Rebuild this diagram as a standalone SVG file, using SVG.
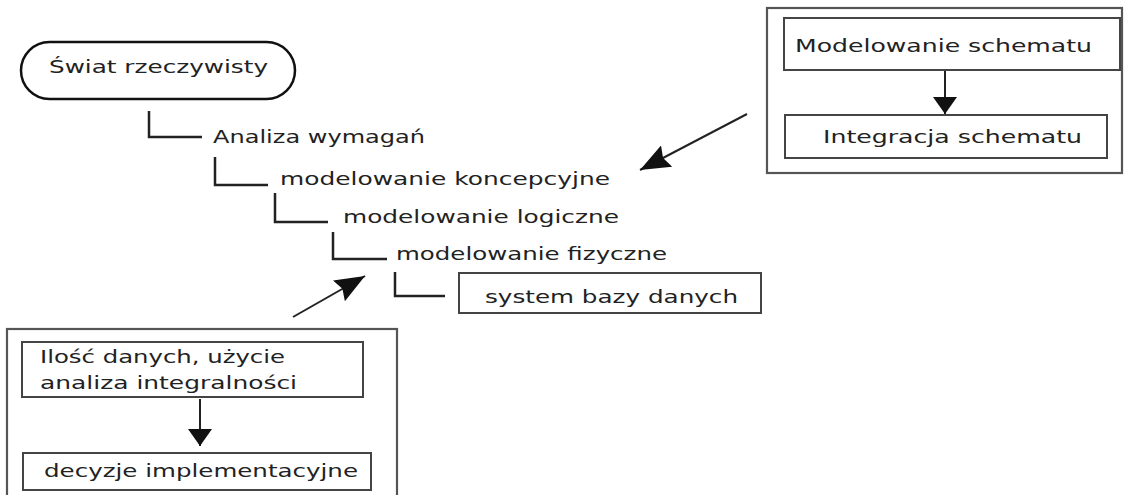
<svg xmlns="http://www.w3.org/2000/svg" width="1126" height="495" viewBox="0 0 1126 495">
  <style>
    .t { font-family: "DejaVu Sans", "Noto Sans", sans-serif; font-size: 17px; fill: #222; }
    .box { fill: #fff; stroke: #444; stroke-width: 2; }
    .frame { fill: none; stroke: #555; stroke-width: 2.2; }
    .step { fill: none; stroke: #222; stroke-width: 2.5; }
    .link { fill: none; stroke: #222; stroke-width: 2; }
  </style>
  <defs>
    <marker id="headDown" markerUnits="userSpaceOnUse" markerWidth="17" markerHeight="24" refX="17" refY="12" orient="auto" viewBox="0 0 17 24">
      <path d="M0,0 L17,12 L0,24 Z" fill="#111"/>
    </marker>
    <marker id="headDiag" markerUnits="userSpaceOnUse" markerWidth="30" markerHeight="24" refX="30" refY="12" orient="auto" viewBox="0 0 30 24">
      <path d="M0,0 L30,12 L0,24 L4,12 Z" fill="#111"/>
    </marker>
  </defs>

  <rect width="1126" height="495" fill="#fff"/>

  <!-- stepwise chain of modelling stages -->
  <g id="connectors">
    <path class="step" d="M149,111 V137 H202"/>
    <path class="step" d="M215,157 V185 H268"/>
    <path class="step" d="M275,193 V222 H328"/>
    <path class="step" d="M333,232 V259 H387"/>
    <path class="step" d="M395,272 V296 H445"/>
    <line class="link" x1="747" y1="114" x2="640" y2="170" marker-end="url(#headDiag)"/>
    <line class="link" x1="293" y1="317" x2="365" y2="276" marker-end="url(#headDiag)"/>
    <line class="link" x1="945" y1="71" x2="945" y2="114" marker-end="url(#headDown)"/>
    <line class="link" x1="200" y1="399" x2="200" y2="446" marker-end="url(#headDown)"/>
  </g>

  <g id="swiat">
    <rect x="21" y="42" width="274" height="57" rx="28.5" ry="28.5" fill="#fff" stroke="#111" stroke-width="2.5"/>
    <text class="t" x="49" y="73" textLength="219" lengthAdjust="spacingAndGlyphs">Świat rzeczywisty</text>
  </g>

  <g id="analiza">
    <text class="t" x="213" y="143" textLength="212" lengthAdjust="spacingAndGlyphs">Analiza wymagań</text>
  </g>

  <g id="koncepcyjne">
    <text class="t" x="280" y="185" textLength="330" lengthAdjust="spacingAndGlyphs">modelowanie koncepcyjne</text>
  </g>

  <g id="logiczne">
    <text class="t" x="343" y="223" textLength="276" lengthAdjust="spacingAndGlyphs">modelowanie logiczne</text>
  </g>

  <g id="fizyczne">
    <text class="t" x="396" y="260" textLength="271" lengthAdjust="spacingAndGlyphs">modelowanie fizyczne</text>
  </g>

  <g id="system">
    <rect class="box" x="459" y="273" width="302" height="40"/>
    <text class="t" x="485" y="303" textLength="253" lengthAdjust="spacingAndGlyphs">system bazy danych</text>
  </g>

  <!-- schema design group -->
  <g id="schemat">
    <rect class="frame" x="767" y="8" width="355" height="165"/>
    <g id="modelowanie-schematu">
      <rect class="box" x="784" y="18" width="336" height="52"/>
      <text class="t" x="795" y="52" textLength="297" lengthAdjust="spacingAndGlyphs">Modelowanie schematu</text>
    </g>
    <g id="integracja-schematu">
      <rect class="box" x="785" y="115" width="322" height="43"/>
      <text class="t" x="823" y="143" textLength="259" lengthAdjust="spacingAndGlyphs">Integracja schematu</text>
    </g>
  </g>

  <!-- physical design group -->
  <g id="implementacja">
    <rect class="frame" x="7" y="329" width="390" height="175"/>
    <g id="ilosc-danych">
      <rect class="box" x="22" y="342" width="341" height="55"/>
      <text class="t" x="40" y="363" textLength="245" lengthAdjust="spacingAndGlyphs">Ilość danych, użycie</text>
      <text class="t" x="40" y="389" textLength="257" lengthAdjust="spacingAndGlyphs">analiza integralności</text>
    </g>
    <g id="decyzje">
      <rect class="box" x="23" y="453" width="348" height="37"/>
      <text class="t" x="44" y="477" textLength="314" lengthAdjust="spacingAndGlyphs">decyzje implementacyjne</text>
    </g>
  </g>
</svg>
